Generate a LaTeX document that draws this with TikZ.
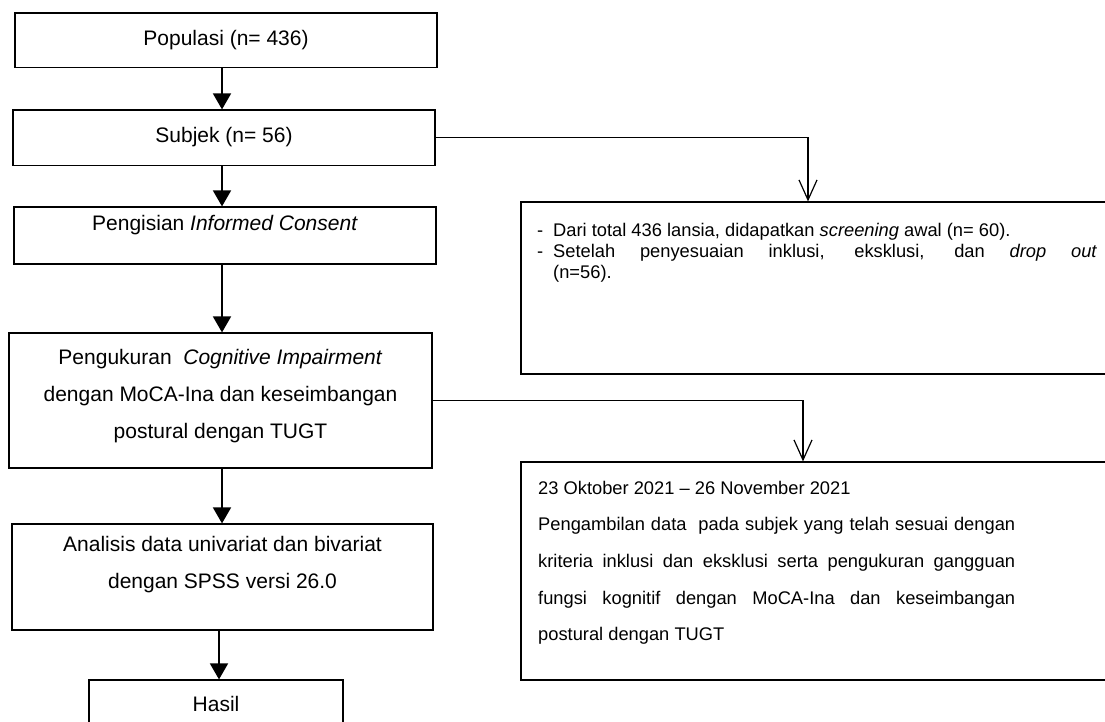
\documentclass[tikz,border=0pt]{standalone}
\usepackage{fontspec}
\setmainfont{Liberation Sans}
\usetikzlibrary{arrows.meta}
\tikzstyle{stage}=[draw, line width=1.2pt, inner sep=0pt]
\tikzstyle{stagetext}=[inner sep=0pt, anchor=base, align=center, font=\fontsize{21}{36.6}\selectfont]
\tikzstyle{notetext}=[inner sep=0pt, anchor=base west, align=justify, font=\fontsize{18.3}{20.8}\selectfont]
\tikzstyle{flow}=[line width=1.8pt, -{Triangle[width=18pt,length=16pt]}]
\tikzstyle{side}=[line width=1.2pt, -{Straight Barb[width=18pt,length=20pt]}]

\begin{document}
\begin{tikzpicture}[x=1pt, y=-1pt]
        \path[use as bounding box, clip] (0,0) rectangle (1105,722);
        \fill[white] (0,0) rectangle (1105,722);
        % left column
        \node[stage, minimum width=422pt, minimum height=54.5pt] (pop) at (226,40.25) {};
        \node[stage, minimum width=422pt, minimum height=55.5pt] (subj) at (224,137.75) {};
        \node[stage, minimum width=422pt, minimum height=57pt] (cons) at (225,235.5) {};
        \node[stage, minimum width=423pt, minimum height=135pt] (meas) at (220.5,400.5) {};
        \node[stage, minimum width=421pt, minimum height=106pt] (anal) at (222.5,577) {};
        \node[stage, minimum width=254pt, minimum height=60pt] (res) at (216,710) {};
        % base of a centred block is its last line
        \node[stagetext] (popt) at (226,45.7) {Populasi (n= 436)};
        \node[stagetext] (subjt) at (224,143) {Subjek (n= 56)};
        \node[stagetext] (const) at (225,230) {Pengisian \textit{Informed Consent}};
        \node[stagetext] (meast) at (220.5,438) {Pengukuran\ \ \textit{Cognitive Impairment}\\ dengan MoCA-Ina dan keseimbangan\\ postural dengan TUGT};
        \node[stagetext] (analt) at (222.5,588) {Analisis data univariat dan bivariat\\ dengan SPSS versi 26.0};
        \node[stagetext] (rest) at (216,711.7) {Hasil};
        % right column
        \node[stage, minimum width=589pt, minimum height=172pt] (scr) at (815.5,288) {};
        \node[stage, minimum width=589pt, minimum height=218pt] (dat) at (815.5,571) {};
        \node[notetext, text width=560pt] (scrt) at (537,236.7) {\parindent=0pt
            \makebox[16pt][l]{-}\parbox[t]{544pt}{Dari total 436 lansia, didapatkan \textit{screening} awal (n= 60).}\par
            \makebox[16pt][l]{-}\parbox[t]{544pt}{Setelah penyesuaian inklusi, eksklusi, dan \textit{drop out}\linebreak (n=56).}};
        \node[notetext, text width=477pt, font=\fontsize{18.3}{36.6}\selectfont] (datt) at (538,494.3) {\parindent=0pt
            23 Oktober 2021 -- 26 November 2021\par
            Pengambilan data\ \ pada subjek yang telah sesuai dengan\linebreak
            kriteria inklusi dan eksklusi serta pengukuran gangguan\linebreak
            fungsi kognitif dengan MoCA-Ina dan keseimbangan\linebreak
            postural dengan TUGT};
        % connectors
        \draw[flow] ([xshift=-4pt]pop.south) -- ([xshift=-4pt]pop.south |- subj.north);
        \draw[flow] ([xshift=-2pt]subj.south) -- ([xshift=-2pt]subj.south |- cons.north);
        \draw[flow] ([xshift=-3pt]cons.south) -- ([xshift=-3pt]cons.south |- meas.north);
        \draw[flow] ([xshift=1.5pt]meas.south) -- ([xshift=1.5pt]meas.south |- anal.north);
        \draw[flow] ([xshift=-3.5pt]anal.south) -- ([xshift=-3.5pt]anal.south |- res.north);
        \draw[side] (subj.east) -| ([xshift=-7.5pt]scr.north);
        \draw[side] (meas.east) -| ([xshift=-12.5pt]dat.north);
    \end{tikzpicture}
\end{document}
